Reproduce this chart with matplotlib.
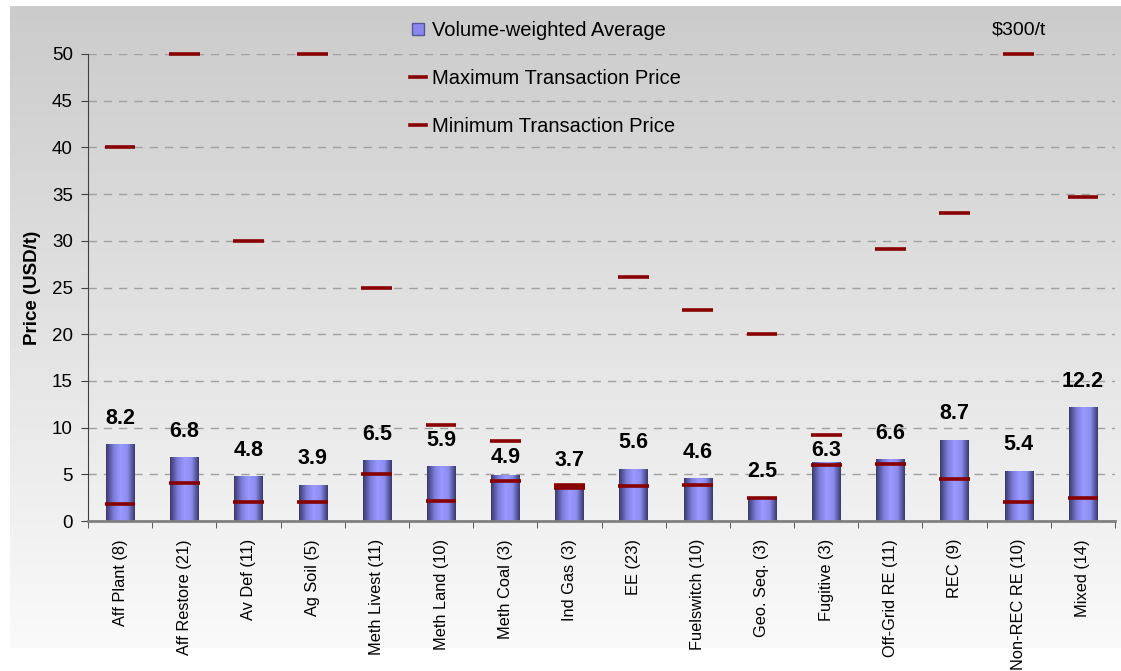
import numpy as np
import matplotlib
matplotlib.use("Agg")
import matplotlib.pyplot as plt
from matplotlib.colors import LinearSegmentedColormap
from matplotlib.lines import Line2D

plt.rcParams['font.family'] = ['Liberation Sans', 'DejaVu Sans']

# --- data ---
categories = ["Aff Plant (8)", "Aff Restore (21)", "Av Def (11)", "Ag Soil (5)",
              "Meth Livest (11)", "Meth Land (10)", "Meth Coal (3)", "Ind Gas (3)",
              "EE (23)", "Fuelswitch (10)", "Geo. Seq. (3)", "Fugitive (3)",
              "Off-Grid RE (11)", "REC (9)", "Non-REC RE (10)", "Mixed (14)"]
avg_price = [8.2, 6.8, 4.8, 3.9, 6.5, 5.9, 4.9, 3.7, 5.6, 4.6, 2.5, 6.3, 6.6, 8.7, 5.4, 12.2]
max_price = [40.0, 50.0, 30.0, 50.0, 25.0, 10.3, 8.6, 3.9, 26.1, 22.6, 20.0, 9.2, 29.1, 33.0, 50.0, 34.7]
min_price = [1.8, 4.1, 2.0, 2.0, 5.0, 2.1, 4.3, 3.5, 3.7, 3.9, 2.5, 6.0, 6.1, 4.5, 2.0, 2.5]
off_scale_note = "$300/t"   # Non-REC RE maximum, cut at 50
off_scale_idx = 14

W, H = 1121, 671
fig = plt.figure(figsize=(W / 100, H / 100), dpi=100)

# grey-to-white background panel
bg = fig.add_axes([10 / W, (H - 648) / H, 1 - 10 / W, (648 - 6) / H], zorder=-5)
grad = np.linspace(0, 1, 256).reshape(-1, 1)
bg_cmap = LinearSegmentedColormap.from_list("bg", ["#cbcbcb", "#fafafa"])
bg.imshow(grad, aspect='auto', cmap=bg_cmap, extent=[0, 1, 0, 1], origin='upper')
bg.axis('off')

ax = fig.add_axes([88 / W, (H - 521) / H, (1115 - 88) / W, (521 - 54) / H])
ax.patch.set_alpha(0)

x = np.arange(len(categories))
bw = 0.44
bar_cmap = LinearSegmentedColormap.from_list(
    "cyl", ["#3a3a6c", "#7a7ad8", "#9a9aff", "#8c8cf0", "#3a3a6c"])
bars = ax.bar(x, avg_price, width=bw, color='none', edgecolor='none', zorder=2)
hgrad = np.linspace(0, 1, 64).reshape(1, -1)
for b in bars:
    im = ax.imshow(hgrad, cmap=bar_cmap, aspect='auto', zorder=2,
                   extent=[b.get_x(), b.get_x() + b.get_width(), 0, b.get_height()])
    im.set_clip_path(b)

red = '#880000'
ax.hlines(max_price, x - bw / 2 - 0.02, x + bw / 2 + 0.02, color=red, lw=2.6, zorder=4, clip_on=False)
ax.hlines(min_price, x - bw / 2 - 0.02, x + bw / 2 + 0.02, color=red, lw=2.6, zorder=4, clip_on=False)

# value labels; two of them sit closer to the bar in the original
lowered = {6: 5, 11: 1}
for i, v in enumerate(avg_price):
    ax.annotate(f"{v:.1f}", (x[i], v), xytext=(0, lowered.get(i, 11)),
                textcoords='offset points', ha='center', va='bottom',
                fontsize=15.5, fontweight='bold', zorder=5)

ax.text(off_scale_idx, 52.6, off_scale_note.replace("$", r"\$"), ha='center', va='center',
        fontsize=14, clip_on=False)

ax.set_xlim(-0.5, len(categories) - 0.5)
ax.set_ylim(0, 50)
ax.set_yticks(np.arange(0, 51, 5))
ax.set_xticks(x)
ax.set_xticklabels(categories, rotation=90, fontsize=11.8)
ax.set_xticks(np.arange(-0.5, len(categories), 1), minor=True)
ax.tick_params(axis='x', which='major', length=0, pad=13)
ax.tick_params(axis='x', which='minor', length=5, color='#404040', direction='out')
ax.tick_params(axis='y', labelsize=13.5, length=5, color='#404040', pad=6)
ax.set_ylabel("Price (USD/t)", fontsize=13.5, fontweight='bold', labelpad=8)

ax.yaxis.grid(True, linestyle=(0, (6, 5)), color='#a0a0a0', lw=1)
ax.set_axisbelow(True)
for s in ['top', 'right']:
    ax.spines[s].set_visible(False)
ax.spines['left'].set_color('#404040')
ax.spines['bottom'].set_color('#808080')
ax.spines['bottom'].set_linewidth(2)

handles = [Line2D([], [], ls='none', marker='s', markersize=8.5,
                  markerfacecolor='#8888ee', markeredgecolor='#55559a'),
           Line2D([], [], color=red, lw=2.6),
           Line2D([], [], color=red, lw=2.6)]
labels = ["Volume-weighted Average", "Maximum Transaction Price", "Minimum Transaction Price"]
fig.legend(handles, labels, loc='upper left', bbox_to_anchor=(402 / W, 1 - 13 / H),
           frameon=False, fontsize=14.5, handlelength=0.8, handletextpad=0.3,
           labelspacing=1.45, borderaxespad=0)

fig.savefig("out.png", dpi=100)
